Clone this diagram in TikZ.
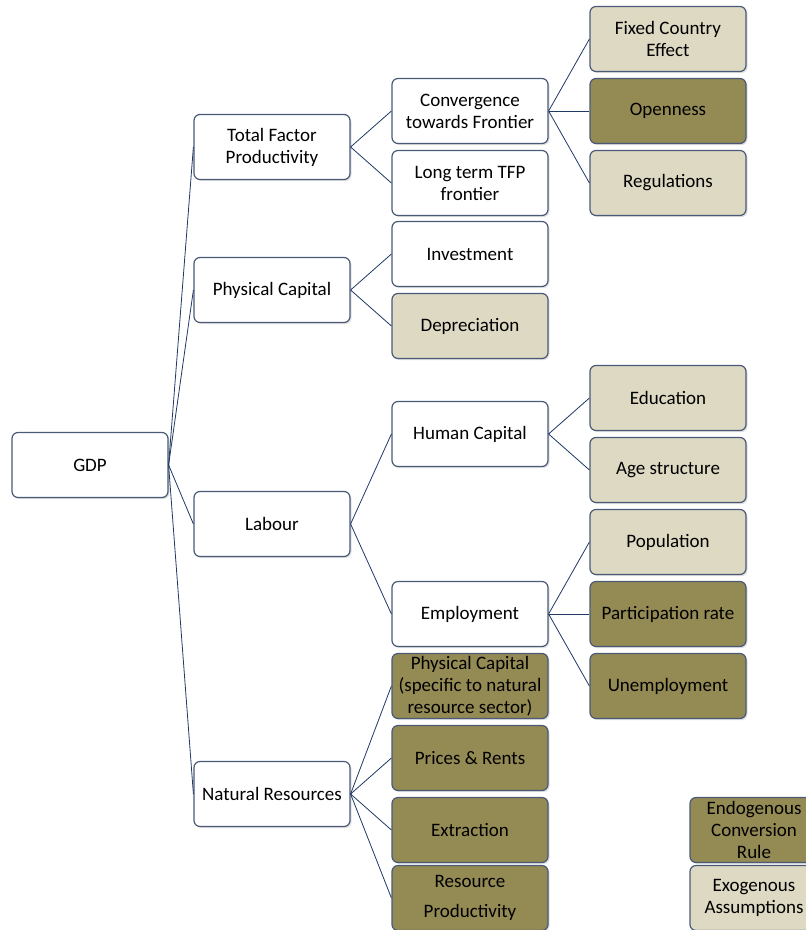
\documentclass[tikz,border=0pt]{standalone}
\usepackage{fontspec}
\setmainfont{Carlito}
\usetikzlibrary{shadows}
\definecolor{navy}{HTML}{1F3864}
\definecolor{boxline}{HTML}{4A5A78}
\definecolor{tan}{HTML}{DDD9C3}
\definecolor{olive}{HTML}{948A54}
\begin{document}
\begin{tikzpicture}[x=1pt, y=-1pt, font=\fontsize{19}{22}\selectfont,
		box/.style={draw=boxline, line width=1.2pt, rounded corners=6pt, fill=white, align=center,
			minimum width=156pt, minimum height=65pt, inner sep=1pt,
			drop shadow={opacity=0.25, shadow xshift=1.5pt, shadow yshift=-1.5pt}},
		exo/.style={box, fill=tan},
		endo/.style={box, fill=olive},
		link/.style={navy, line width=0.8pt}]
		\useasboundingbox (0, 0) rectangle (806, 930);

		\node[box] (gdp) at (90, 465) {GDP};

		\node[box] (tfp) at (272, 147) {Total Factor\\Productivity};
		\node[box] (phys) at (272, 290) {Physical Capital};
		\node[box] (lab) at (272, 524) {Labour};
		\node[box] (nat) at (272, 794) {Natural Resources};

		\node[box] (conv) at (470, 111) {Convergence\\towards Frontier};
		\node[box] (lttfp) at (470, 183) {Long term TFP\\frontier};
		\node[box] (inv) at (470, 254) {Investment};
		\node[exo] (dep) at (470, 326) {Depreciation};
		\node[box] (hum) at (470, 434) {Human Capital};
		\node[box] (emp) at (470, 614) {Employment};
		\node[endo] (pcnat) at (470, 686) {Physical Capital\\(specific to natural\\resource sector)};
		\node[endo] (pri) at (470, 758) {Prices \& Rents};
		\node[endo] (ext) at (470, 830) {Extraction};
		\node[endo] (rprod) at (470, 898) {Resource\\[8pt]Productivity};

		\node[exo] (fix) at (668, 39) {Fixed Country\\Effect};
		\node[endo] (open) at (668, 111) {Openness};
		\node[exo] (reg) at (668, 183) {Regulations};
		\node[exo] (edu) at (668, 398) {Education};
		\node[exo] (age) at (668, 470) {Age structure};
		\node[exo] (pop) at (668, 542) {Population};
		\node[endo] (part) at (668, 614) {Participation rate};
		\node[endo] (unemp) at (668, 686) {Unemployment};

		% legend
		\node[endo, minimum width=128pt] (legendo) at (754, 830) {Endogenous\\Conversion\\Rule};
		\node[exo, minimum width=128pt] (legexo) at (754, 898) {Exogenous\\Assumptions};

		\foreach \a/\b in {gdp/tfp, gdp/phys, gdp/lab, gdp/nat,
				tfp/conv, tfp/lttfp, phys/inv, phys/dep, lab/hum, lab/emp,
				nat/pcnat, nat/pri, nat/ext, nat/rprod,
				conv/fix, conv/open, conv/reg, hum/edu, hum/age,
				emp/pop, emp/part, emp/unemp}
			\draw[link] (\a.east) -- (\b.west);
	\end{tikzpicture}
\end{document}
